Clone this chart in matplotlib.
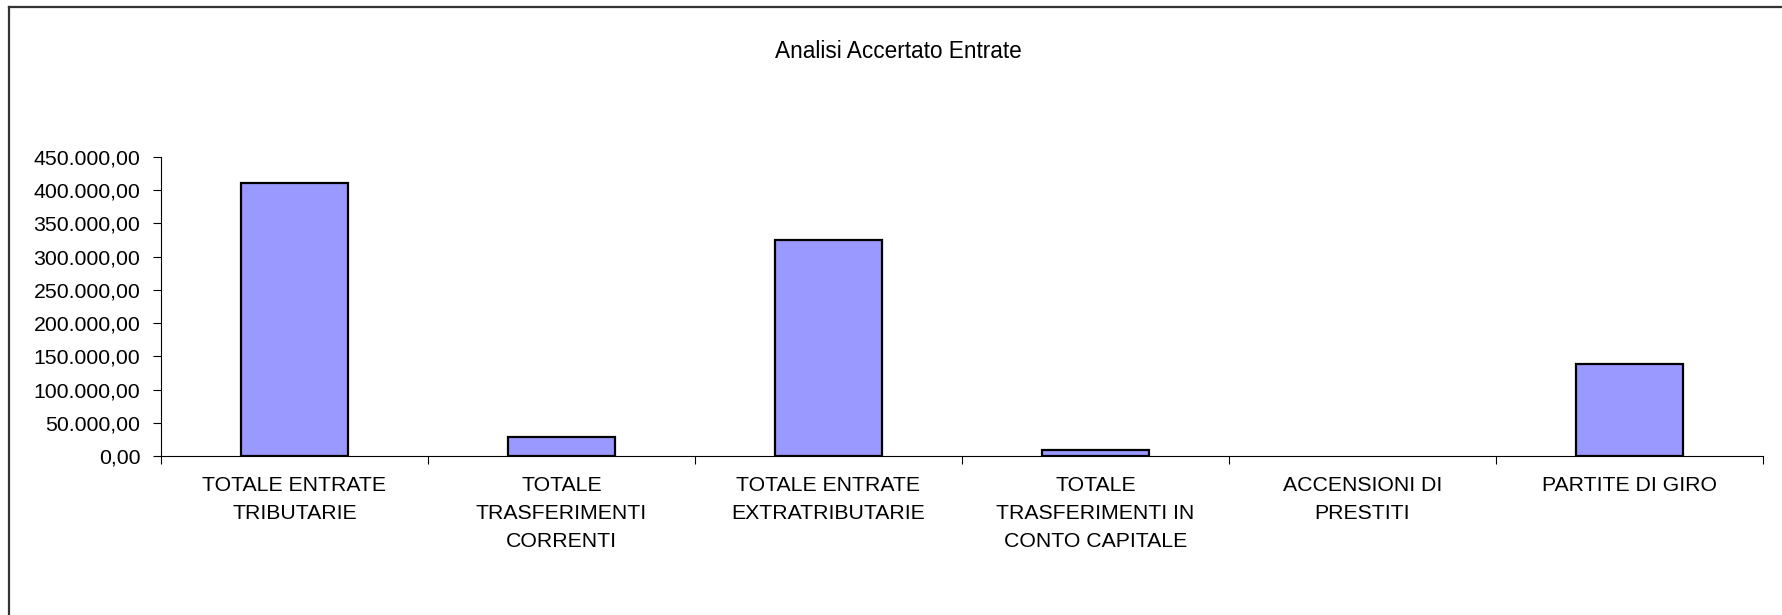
import matplotlib
matplotlib.use('Agg')
import numpy as np
import matplotlib.pyplot as plt
from matplotlib.ticker import FuncFormatter, FixedLocator
from matplotlib.lines import Line2D

### data ###
categorie = ['TOTALE ENTRATE\nTRIBUTARIE',
             'TOTALE\nTRASFERIMENTI\nCORRENTI',
             'TOTALE ENTRATE\nEXTRATRIBUTARIE',
             'TOTALE\nTRASFERIMENTI IN\nCONTO CAPITALE',
             'ACCENSIONI DI\nPRESTITI',
             'PARTITE DI GIRO']
accertato = [411000, 28500, 324500, 8300, 0, 139000]
yticks = [0, 50000, 100000, 150000, 200000, 250000, 300000, 350000, 400000, 450000]

titolo = 'Analisi Accertato Entrate'

### style ###
plt.rcParams['font.family'] = ['Liberation Sans', 'DejaVu Sans']
fs_tick = 15.3
fs_title = 16.3

def fmt_it(v, pos):
    s = '{:,.2f}'.format(v)
    return s.replace(',', 'X').replace('.', ',').replace('X', '.')

### figure ###
fig = plt.figure(figsize=(17.82, 6.15), dpi=100)
ax = fig.add_axes([161/1782, 1 - 456/615, (1763-161)/1782, (456-157)/615])

x = np.arange(len(categorie))
# no outline for empty bars (Excel draws nothing there)
lw = [1.6 if v > 0 else 0 for v in accertato]
ax.bar(x, accertato, width=0.4, color='#9999FF', edgecolor='black', linewidth=lw, zorder=3)

ax.set_xlim(-0.5, len(categorie) - 0.5)
ax.set_ylim(0, 450000)
ax.set_yticks(yticks)
ax.yaxis.set_major_formatter(FuncFormatter(fmt_it))

# ticks on category boundaries, labels in the middle
ax.xaxis.set_major_locator(FixedLocator(np.arange(-0.5, len(categorie), 1.0)))
ax.xaxis.set_major_formatter(plt.NullFormatter())
ax.set_xticks(x, minor=True)
ax.set_xticklabels(categorie, minor=True, fontsize=fs_tick, linespacing=1.6)
ax.tick_params(axis='x', which='minor', length=0, pad=14.5)
ax.tick_params(axis='x', which='major', length=6, width=0.8, direction='out')
ax.tick_params(axis='y', length=6, width=0.8, direction='out', pad=9, labelsize=fs_tick)

for s in ['top', 'right']:
    ax.spines[s].set_visible(False)
for s in ['left', 'bottom']:
    ax.spines[s].set_linewidth(0.8)

fig.text(898/1782, 1 - 51/615, titolo, ha='center', va='center', fontsize=fs_title)

# chart area border (only top and left visible)
fig.add_artist(Line2D([9/1782, 1.0], [1 - 6.5/615, 1 - 6.5/615], color='#333333', linewidth=1.6))
fig.add_artist(Line2D([9/1782, 9/1782], [1 - 6.5/615, 0.0], color='#333333', linewidth=1.6))

fig.savefig('out.png', dpi=100)
